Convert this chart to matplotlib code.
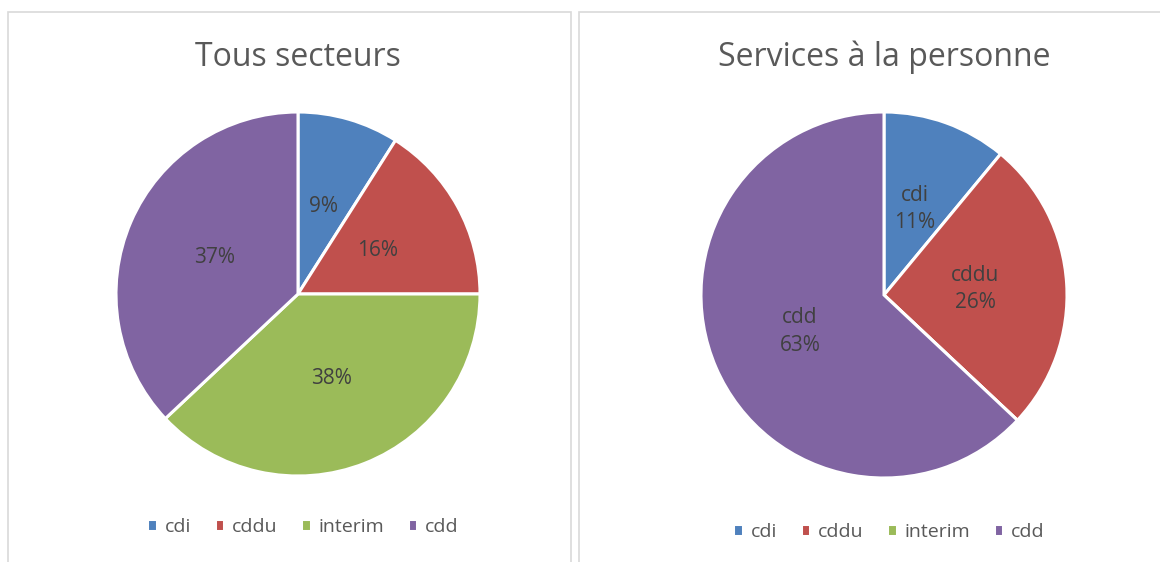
import matplotlib
matplotlib.use("Agg")
import matplotlib.pyplot as plt
from matplotlib.patches import Rectangle
import numpy as np

# data
categories = ["cdi", "cddu", "interim", "cdd"]
tous_secteurs = [9, 16, 38, 37]
services_personne = [11, 26, 0, 63]
titles = ["Tous secteurs", "Services à la personne"]
colors = ["#4F81BD", "#C0504D", "#9BBB59", "#8064A2"]

plt.rcParams["font.family"] = ["Open Sans", "DejaVu Sans"]
W, H = 1160, 562
fig = plt.figure(figsize=(W / 100, H / 100), dpi=100)


def fx(px):
    return px / W


def fy(py):
    return 1 - py / H


# panel frames
for x0, x1 in [(8, 571), (579, 1175)]:
    fig.add_artist(Rectangle((fx(x0), fy(600)), fx(x1 - x0), (600 - 12) / H,
                             transform=fig.transFigure, fill=False,
                             edgecolor="#D9D9D9", lw=1.2))

panels = [
    dict(values=tous_secteurs, cx=298, cy=294, r=182, ty=57, ly=527, names=False),
    dict(values=services_personne, cx=884, cy=295, r=183, ty=57, ly=532, names=True),
]

for p, title in zip(panels, titles):
    r = p["r"]
    ax = fig.add_axes([fx(p["cx"] - r), fy(p["cy"] + r), fx(2 * r), 2 * r / H])
    wedges, _ = ax.pie(p["values"], colors=colors, startangle=90, counterclock=False,
                       radius=1, wedgeprops=dict(edgecolor="white", linewidth=2.2))
    ax.set_xlim(-1, 1)
    ax.set_ylim(-1, 1)
    ax.set_aspect("equal")
    ax.axis("off")
    for w in wedges:
        w.set_clip_on(False)

    total = sum(p["values"])
    for w, v, name in zip(wedges, p["values"], categories):
        if v == 0:
            continue
        ang = np.deg2rad((w.theta1 + w.theta2) / 2)
        pct = f"{round(100 * v / total)}%"
        txt = f"{name}\n{pct}" if p["names"] else pct
        ax.text(0.5 * np.cos(ang), 0.5 * np.sin(ang), txt, ha="center", va="center",
                fontsize=15, color="#404040", linespacing=1.4)

    fig.text(fx(p["cx"]), fy(p["ty"]), title, ha="center", va="center",
             fontsize=23, color="#595959")

    fig.legend(wedges, categories, loc="center", bbox_to_anchor=(fx(p["cx"] + 5), fy(p["ly"])),
               ncol=4, frameon=False, fontsize=14, handlelength=0.5, handleheight=0.6,
               handletextpad=0.4, columnspacing=1.2, labelcolor="#595959")

fig.savefig("out.png", dpi=100)
